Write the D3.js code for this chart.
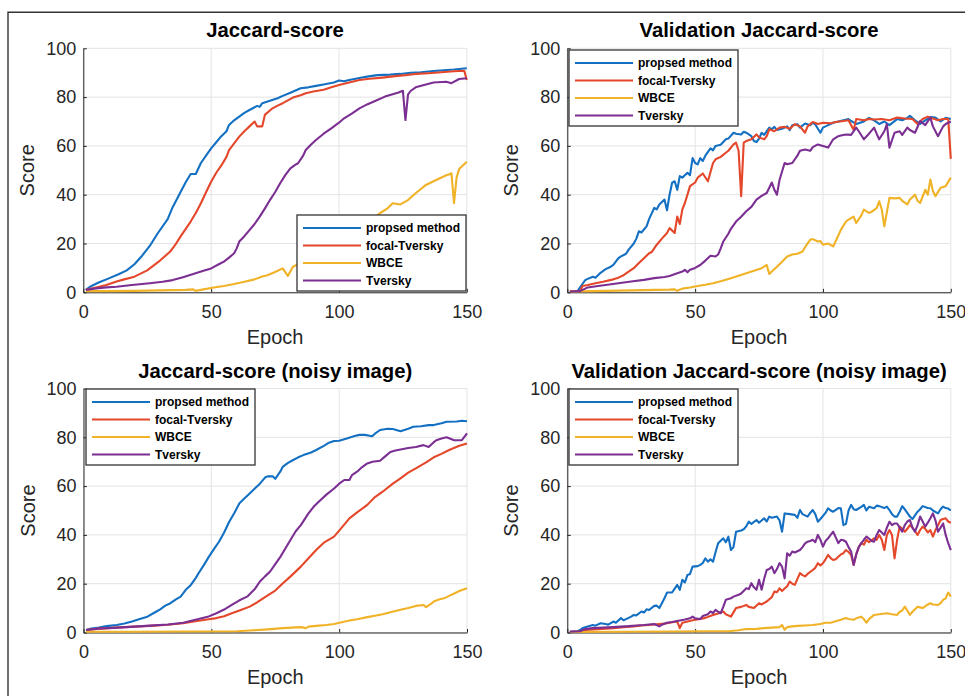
<!DOCTYPE html>
<html>
<head>
<meta charset="utf-8">
<script src="https://cdn.jsdelivr.net/npm/d3@7"></script>
<style>
  body { margin: 0; background: #fff; }
  svg { display: block; font-family: "Liberation Sans", Arial, Helvetica, sans-serif; }
</style>
</head>
<body>
<div id="chart"></div>
<script>
// series names, in legend order
const seriesNames = ["propsed method", "focal-Tversky", "WBCE", "Tversky"];
const seriesColors = ["#1470c2", "#e4472a", "#f0b226", "#7c2f92"];
const panelTitles = ["Jaccard-score", "Validation Jaccard-score", "Jaccard-score (noisy image)", "Validation Jaccard-score (noisy image)"];
const xTicks = [0, 50, 100, 150];
const yTicks = [0, 20, 40, 60, 80, 100];

// [epoch, score]
// --- Jaccard-score
const trainProposed = [[1,1],[3,2.5],[6,4],[10,5.7],[14,7.5],[17,9],[20,11.5],[23,15],[26,19],[29,24],[33,30],[35,35],[38,41],[40,45],[42,48.5],[44,48.5],[46,53],[48,56],[50,59],[52,61.5],[54,64],[56,66],[57,68.6],[59,70.5],[61,72],[63,73.5],[65,74.7],[68,76.4],[69,76],[70,77.5],[73,78.5],[76,79.5],[78,80.5],[81,81.8],[85,83.6],[88,84],[91,84.6],[94,85.2],[98,86],[100,86.8],[102,86.5],[104,87],[108,87.8],[111,88.4],[115,89],[120,89.2],[124,89.5],[128,90],[132,90.2],[137,90.7],[141,91],[145,91.3],[150,91.8]];
const trainFocal = [[1,1],[5,2],[9,3],[13,4.4],[16,5.3],[20,6.4],[25,9],[30,13],[34,16.7],[36,19.5],[38,22.8],[42,29],[44,32.5],[46,36.5],[48,41],[50,45.3],[52,49],[54,52],[56,55.5],[57,58.3],[59,61],[61,63.8],[63,66],[65,68],[67,70],[68,68],[70,68],[71,72.7],[74,75.4],[76,76.5],[78,77.5],[82,79.8],[85,80.8],[87,81.6],[90,82.3],[94,83],[97,84],[100,85],[104,86],[108,87],[112,87.5],[117,88],[122,88.6],[126,89],[130,89.5],[135,89.8],[140,90.2],[145,90.6],[149,90.8],[150,87]];
const trainWBCE = [[1,0.5],[10,0.5],[20,0.6],[30,0.8],[40,1],[43,1.2],[44,0.6],[46,1],[51,2],[55,2.6],[59,3.4],[63,4.3],[67,5.3],[70,6.5],[72,7],[75,8.3],[78,9.8],[80,6.7],[82,10.5],[85,12],[90,15],[95,18],[100,21],[105,24],[110,28],[113,30],[116,32.4],[119,34.4],[121,36.5],[124,36],[127,37.8],[130,40.6],[134,44],[138,46],[142,48],[143,48.3],[144,48.8],[145,36.5],[146,47],[147,50.5],[150,53.5]];
const trainTversky = [[1,1],[5,1.6],[9,2],[13,2.3],[19,3],[26,3.7],[31,4.3],[35,5],[39,6.2],[43,7.5],[47,8.8],[50,9.8],[53,11.5],[55,12.6],[57,14.2],[59,16],[60,18],[61,20.8],[63,23],[65,25.5],[67,28],[69,31],[71,34.3],[73,37.8],[75,41],[77,44.7],[79,48],[81,50.8],[83,52.3],[84,52.9],[86,56],[87,58.3],[89,60.5],[91,62.4],[94,65],[97,67.2],[100,69.5],[102,71.3],[105,73.2],[108,75.4],[111,77],[115,78.8],[118,80.2],[120,80.9],[123,81.8],[125,82.6],[126,70.6],[127,81],[128,82.5],[130,84],[134,85.2],[137,86],[142,86.3],[144,85.7],[147,87.4],[150,87.7]];

// --- Validation Jaccard-score
const valProposed = [[1,0.5],[4,0.5],[5,2],[6,3.5],[7,5],[8,5.5],[10,6.4],[11,6],[13,8],[15,9.5],[17,10.5],[18,11.2],[20,14],[21,14.7],[23,15.8],[24,17.5],[26,20],[27,22],[28,25],[29,24.5],[31,27],[32,30],[34,34.6],[35,34],[36,36],[38,38],[39,33.6],[40,40],[41,44.9],[42,45.5],[43,42],[44,47.6],[45,47],[47,49],[48,48],[49,55],[50,53],[51,52.4],[52,55],[53,53.8],[54,56],[56,59],[57,58.2],[58,60],[60,60.5],[62,62.7],[63,63],[65,65.4],[66,65],[68,64.7],[69,65.8],[70,65.4],[72,64],[73,62],[74,61.6],[75,63],[76,65.4],[77,64.5],[79,67.5],[80,66.8],[81,67.8],[82,66.5],[84,67],[86,68],[87,66.5],[88,68.5],[90,68.9],[91,67.5],[93,69.2],[95,68.5],[96,69.5],[97,68.8],[99,65.4],[100,67.5],[102,68.5],[104,69.5],[106,70],[108,70.5],[110,71],[111,70.2],[113,69],[116,70],[118,71.5],[120,70.5],[122,69],[124,70],[126,68.5],[129,71],[131,70.5],[133,71.5],[134,72.3],[136,70.5],[138,69],[140,70.5],[142,71.8],[144,71.6],[146,70],[148,71.5],[150,71]];
const valFocal = [[1,0.5],[5,0.5],[6,2.6],[8,3],[11,3.7],[14,4.3],[18,5.3],[20,6],[22,7],[24,8.5],[26,9.9],[28,12],[30,14],[32,16],[33,16.5],[35,19.5],[37,22],[39,24.3],[40,26.3],[42,24.3],[43,31],[44,28],[45,34],[46,36.6],[48,43.5],[50,45],[51,47],[53,48.7],[55,45.5],[57,53],[58,54.5],[60,55.5],[62,57.2],[63,58],[65,60.6],[66,61.3],[67,58],[68,39.4],[69,61.3],[70,62],[72,62.7],[74,64.7],[75,63.5],[77,62.7],[78,64],[79,66.8],[81,66],[83,67.5],[85,67.8],[87,67],[89,68.9],[91,68],[93,65.4],[94,68],[96,69.8],[98,69],[100,69.5],[103,69.3],[105,69.8],[108,70.2],[110,70.5],[112,66.5],[113,71],[116,70.5],[118,71],[120,70.8],[123,71],[126,70.5],[129,71.6],[132,71.2],[135,71],[137,69],[139,71],[141,72],[143,71.2],[145,70.5],[147,71],[149,71],[150,54.7]];
const valWBCE = [[1,0.3],[10,0.5],[20,0.7],[30,0.9],[40,1.1],[42,1.2],[43,0.6],[45,1.5],[48,2],[51,2.6],[54,3.1],[57,3.7],[60,4.5],[64,5.8],[67,6.8],[70,7.8],[73,8.8],[76,9.9],[78,11.2],[79,7.5],[80,8.5],[82,10.5],[84,12.5],[86,14.7],[88,15.5],[90,15.8],[92,16.7],[93,18.5],[95,21.5],[96,21.8],[98,20.8],[99,21],[100,19.5],[102,20],[104,18.8],[105,21],[107,25.6],[109,29],[110,29.8],[112,31],[113,28.4],[115,31.5],[116,33.9],[118,32.5],[119,33],[121,34.5],[122,37.3],[123,34],[124,27],[126,38.7],[128,38.5],[130,38.7],[131,37.5],[133,36],[134,38],[136,40],[137,37.5],[138,36.6],[140,42],[141,40],[142,46.2],[143,41.5],[144,39.4],[146,42.8],[148,43.5],[150,47]];
const valTversky = [[1,0.3],[5,0.5],[7,1.5],[8,2],[12,2.6],[15,3],[20,3.7],[25,4.4],[30,5.1],[34,5.8],[38,6.3],[40,6.7],[43,7.8],[45,8.5],[46,9.2],[47,8.2],[48,9.2],[50,10],[52,11.2],[54,13],[56,15],[58,14.7],[59,15.5],[60,18],[61,20.8],[63,24],[64,26],[66,29],[68,31],[70,33.2],[72,35],[74,38],[76,39.5],[78,40.7],[80,45],[81,42],[82,40],[83,46],[85,53],[86,52.5],[88,53],[90,56],[91,58],[93,58.5],[95,58],[96,59.5],[98,60.6],[100,60],[102,59.3],[103,61],[104,62.7],[106,64],[107,64.3],[109,64.7],[111,64.5],[113,67.5],[114,66],[116,62.7],[118,65],[120,67.5],[121,65],[122,62.7],[124,66],[125,68.9],[126,59.3],[128,65.4],[130,66],[131,64.5],[133,67.5],[134,66.5],[136,65.4],[138,70.2],[140,68.5],[142,71.6],[143,68],[145,64],[147,68],[148,69],[150,70]];

// --- Jaccard-score (noisy image)
const noisyProposed = [[1,1],[3,1.6],[6,2],[9,2.6],[13,3.1],[16,3.7],[19,4.5],[22,5.5],[25,6.5],[28,8.3],[30,9.5],[32,11],[34,12],[36,13.5],[38,14.7],[40,17.5],[42,19.5],[44,22.5],[45,24.3],[47,27.5],[49,31],[51,34.2],[53,37.2],[55,41],[57,45.4],[59,49],[61,53],[63,55],[65,57],[67,59],[69,61],[71,63.5],[72,64],[74,64],[75,63],[77,66],[78,68],[80,69.5],[82,70.7],[84,71.8],[86,72.7],[89,73.8],[91,74.8],[94,76.5],[96,77.8],[98,78.5],[100,78.6],[103,79.5],[106,80.5],[108,81],[110,81],[112,80.6],[113,80.5],[114,81.5],[116,83],[119,83.5],[121,83.4],[124,82.5],[127,83.5],[129,84.3],[132,84.5],[135,85],[137,85],[140,85.8],[142,86.4],[146,86.5],[148,86.8],[150,86.6]];
const noisyFocal = [[1,1],[6,1.6],[13,2],[20,2.4],[26,2.7],[33,3.2],[39,3.8],[45,4.8],[49,5.4],[52,5.9],[55,6.7],[58,7.9],[61,9],[65,10.6],[68,12.4],[71,14.5],[75,17.2],[78,20.2],[81,23],[85,27],[88,30.4],[91,33.8],[94,36.8],[98,39.3],[101,43],[104,46.8],[107,49.2],[111,52.3],[114,55.5],[117,57.7],[121,61],[124,63.2],[127,65.5],[130,67.3],[134,69.7],[137,71.8],[140,73.2],[143,74.8],[147,76.5],[150,77.5]];
const noisyWBCE = [[1,0.3],[20,0.3],[40,0.4],[60,0.5],[65,0.8],[72,1.3],[78,1.8],[85,2.2],[87,1.8],[88,2.4],[91,2.7],[95,3.1],[98,3.5],[101,4.2],[104,4.9],[107,5.4],[111,6.3],[114,6.9],[117,7.5],[120,8.3],[124,9.3],[127,10],[130,10.9],[133,11.3],[134,10.4],[136,11.8],[137,12.7],[139,13.5],[141,14],[143,15],[145,16],[147,17],[150,18.1]];
const noisyTversky = [[1,1],[6,1.6],[13,2],[20,2.4],[26,2.8],[33,3.3],[39,4],[45,5.5],[49,6.6],[52,7.9],[55,9.4],[58,11.3],[61,13.2],[64,14.7],[67,17.8],[69,20.9],[71,23],[73,25],[75,28],[77,31],[79,34.5],[81,38],[83,41.5],[85,44],[88,48.8],[90,51.5],[92,53.6],[95,56.5],[98,59],[100,61],[102,62.5],[104,62.5],[105,64.5],[107,65.9],[109,67.8],[111,69.3],[113,70],[116,70.4],[118,72.2],[120,74],[122,74.6],[124,75],[127,75.6],[130,76],[133,76.8],[135,76],[137,78],[138,78.8],[140,79.5],[142,80],[145,78.8],[148,78.8],[150,81.6]];

// --- Validation Jaccard-score (noisy image)
const noisyValProposed = [[1,0.3],[4,0.5],[5,1],[6,1.8],[8,2.5],[10,3.1],[11,2.8],[13,3.8],[15,3.5],[16,3.2],[18,4.5],[19,4],[21,5.9],[22,5],[23,5.5],[25,6.5],[26,7.2],[27,7],[29,8.6],[30,8.2],[31,9.5],[32,9.2],[34,10.9],[35,11],[36,10],[37,12],[38,14],[39,16.4],[41,16.4],[42,18],[43,19.5],[44,17.5],[45,21.6],[46,20.5],[47,23.6],[48,24],[49,27],[51,27.2],[52,27.7],[53,28.5],[54,30.4],[55,29],[56,30],[57,29],[58,33],[59,36.6],[61,38.6],[62,37],[63,39.3],[64,33.8],[65,35],[66,41.3],[68,41.8],[69,42.3],[70,43.5],[71,45.4],[72,44.5],[74,46.1],[75,45],[77,46.8],[78,45.5],[79,47.5],[80,47],[82,47.5],[83,46],[84,41.3],[85,48.8],[87,48.5],[89,48.2],[90,47],[91,50.2],[92,48.5],[94,47.5],[95,49],[96,50.2],[97,48.5],[98,45.4],[99,46.5],[101,49],[102,50.9],[103,50],[104,49.5],[106,51],[107,50.9],[108,44],[109,44.5],[110,50],[111,52.3],[112,50.5],[113,50.2],[115,51.5],[116,52.3],[117,50],[118,51.5],[120,50.9],[121,52],[122,51.8],[124,51],[125,51.6],[126,50.2],[127,48.5],[128,47.5],[129,47.5],[130,49.5],[131,51.8],[132,50.5],[133,49],[134,47.5],[135,46.5],[136,48],[137,49.5],[138,50.5],[139,51.8],[141,51],[142,50.9],[143,50],[145,48.8],[146,50.5],[147,51.6],[148,51],[149,50.8],[150,50]];
const noisyValFocal = [[1,0.3],[5,0.5],[7,1],[12,1.4],[18,1.8],[22,2.2],[26,2.5],[29,2.9],[32,3.1],[36,3.5],[39,3.8],[41,4.2],[43,4.5],[44,1.8],[45,4],[47,4.5],[49,5],[52,5.5],[54,6],[57,7.2],[59,7.8],[61,8.6],[62,7.5],[64,6.5],[66,10],[68,10.5],[70,11.3],[71,10.5],[73,10],[75,12],[76,11.5],[78,12.7],[80,14.5],[81,16.8],[82,16.5],[83,18.1],[84,17],[85,18],[86,19],[87,20.9],[88,20],[89,19.5],[90,22],[91,24.3],[92,23.5],[93,23],[94,24],[96,25.6],[97,26.5],[98,28.4],[99,27.5],[100,28.4],[101,30],[102,31.8],[103,30.5],[104,29.7],[105,30],[106,31],[107,32],[108,32.5],[109,33.8],[110,33],[111,31.8],[112,27.7],[113,32],[114,35],[115,36.6],[116,36],[117,38],[118,37],[120,38.6],[121,38],[122,40],[123,38],[124,33.8],[125,40],[126,42],[127,40],[128,30.4],[129,38],[130,43.4],[131,42.5],[132,41.3],[133,42.5],[134,44],[135,43],[136,41.5],[137,40],[138,42],[139,43.4],[140,42.5],[141,41],[142,42],[143,39.3],[144,42],[145,44],[146,46.1],[147,46.5],[148,46.8],[149,45.5],[150,45]];
const noisyValWBCE = [[1,0.2],[20,0.3],[40,0.4],[55,0.5],[63,0.5],[67,0.9],[70,1.4],[74,1.5],[77,1.8],[80,2],[83,2.2],[84,3.1],[85,1.1],[86,2.2],[88,2.5],[90,2.7],[93,2.9],[96,3.1],[99,3.5],[101,4],[103,4],[105,4.6],[107,5.2],[109,5.9],[110,5.5],[112,5.2],[113,5.8],[115,6.5],[116,5.5],[117,4],[118,5.5],[120,7.2],[122,7.5],[125,7.9],[127,7.5],[129,7.2],[130,8.5],[131,9],[132,10.6],[133,9],[134,7.2],[135,8.5],[137,10.6],[138,10.3],[139,10],[141,11.5],[142,12],[143,11.5],[145,11.3],[146,12],[147,13.4],[148,14],[149,16.4],[150,14.7]];
const noisyValTversky = [[1,0.3],[5,0.5],[7,1.4],[10,1.8],[14,2],[18,2.2],[21,2.4],[24,2.6],[27,2.9],[30,3.1],[32,3.3],[34,3.5],[36,2.5],[37,3.2],[39,4],[41,4.3],[44,4.9],[46,5.3],[48,5.8],[49,6.5],[50,5.8],[52,5.5],[53,6.8],[55,7.5],[56,8.6],[57,8],[58,9.3],[59,8.5],[60,7.9],[61,10.5],[62,13.4],[64,14],[65,14.7],[67,15.5],[68,16],[70,18.1],[71,17.8],[72,20.2],[73,18.5],[74,17.5],[75,21.6],[76,17.5],[77,22],[78,25.6],[79,26],[80,27],[81,24.3],[82,26],[83,28.4],[84,27],[85,22.2],[86,32.5],[87,31.5],[88,33.2],[89,32.8],[91,33.8],[92,35],[93,36.5],[94,37.2],[95,37.5],[96,38],[97,37],[98,40],[99,38],[100,35.2],[101,37.5],[102,38.6],[103,40],[104,41.3],[105,39],[106,36.6],[107,38],[108,37.8],[109,37.2],[110,35],[111,33.2],[112,27.7],[113,32],[114,35],[115,36.6],[116,38],[117,39.3],[118,38.5],[119,37.5],[120,37.2],[121,40],[122,42],[123,41],[124,40],[125,43],[126,45.4],[127,44],[128,44.7],[129,44.7],[130,43],[131,41.3],[132,44],[133,45.5],[134,46.1],[135,43],[136,41.3],[137,44],[138,47.5],[139,45.5],[140,43.4],[141,45],[142,46.8],[143,48.8],[144,46],[145,41.3],[146,43],[147,44.7],[148,40],[149,36.6],[150,33.8]];

const panelSeries = [
    [trainProposed, trainFocal, trainWBCE, trainTversky],
    [valProposed, valFocal, valWBCE, valTversky],
    [noisyProposed, noisyFocal, noisyWBCE, noisyTversky],
    [noisyValProposed, noisyValFocal, noisyValWBCE, noisyValTversky]
];

// layout (pixels)
const W = 965, H = 696;
const plotW = 383.5, plotH = 244;
const layout = [
    { left: 83.3, top: 48.3, legend: [297, 215] },
    { left: 567.3, top: 48.3, legend: [569, 50] },
    { left: 83.5, top: 388.5, legend: [86, 389] },
    { left: 567.3, top: 388.5, legend: [569, 389] }
];
const tickColor = "#262626";
const gridColor = "#e3e3e3";

const svg = d3.select("#chart")
    .append("svg")
    .attr("width", W)
    .attr("height", H);

// outer frame (top and left edges only show)
svg.append("path")
    .attr("d", `M8,${H} L8,12.3 L${W},12.3`)
    .attr("fill", "none")
    .attr("stroke", "#333")
    .attr("stroke-width", 1.4);

const x = d3.scaleLinear().domain([0, 150]).range([0, plotW]);
const y = d3.scaleLinear().domain([0, 100]).range([plotH, 0]);

const line = d3.line()
    .x(d => x(d[0]))
    .y(d => y(d[1]));

panelSeries.forEach((series, p) => {
    const L = layout[p];
    const g = svg.append("g")
        .attr("transform", `translate(${L.left}, ${L.top})`);

    // grid
    g.append("g")
        .selectAll("line")
        .data(xTicks)
        .join("line")
        .attr("x1", d => x(d)).attr("x2", d => x(d))
        .attr("y1", 0).attr("y2", plotH)
        .attr("stroke", gridColor);
    g.append("g")
        .selectAll("line")
        .data(yTicks)
        .join("line")
        .attr("x1", 0).attr("x2", plotW)
        .attr("y1", d => y(d)).attr("y2", d => y(d))
        .attr("stroke", gridColor);

    // axes, ticks pointing in
    const xAxis = g.append("g")
        .attr("transform", `translate(0, ${plotH})`)
        .call(d3.axisBottom(x).tickValues(xTicks).tickSizeInner(-3.5).tickSizeOuter(0).tickPadding(13));
    const yAxis = g.append("g")
        .call(d3.axisLeft(y).tickValues(yTicks).tickSizeInner(-3.5).tickSizeOuter(0).tickPadding(7));
    [xAxis, yAxis].forEach(a => {
        a.select(".domain").attr("stroke", tickColor);
        a.selectAll(".tick line").attr("stroke", tickColor);
        a.selectAll(".tick text")
            .attr("fill", tickColor)
            .style("font-size", "18px")
            .style("font-family", '"Liberation Sans", Arial, sans-serif');
    });

    // lines
    g.append("g")
        .selectAll("path")
        .data(series)
        .join("path")
        .attr("d", line)
        .attr("fill", "none")
        .attr("stroke", (d, i) => seriesColors[i])
        .attr("stroke-width", 2.1)
        .attr("stroke-linejoin", "round");

    // title + labels
    g.append("text")
        .attr("x", plotW / 2)
        .attr("y", -11)
        .attr("text-anchor", "middle")
        .style("font-size", "20.3px")
        .style("font-weight", "bold")
        .attr("fill", "#000")
        .text(panelTitles[p]);

    g.append("text")
        .attr("x", plotW / 2)
        .attr("y", plotH + 51.5)
        .attr("text-anchor", "middle")
        .style("font-size", "20px")
        .attr("fill", tickColor)
        .text("Epoch");

    g.append("text")
        .attr("transform", `translate(-49, ${plotH / 2}) rotate(-90)`)
        .attr("text-anchor", "middle")
        .style("font-size", "20px")
        .attr("fill", tickColor)
        .text("Score");

    // legend
    const lg = svg.append("g")
        .attr("transform", `translate(${L.legend[0]}, ${L.legend[1]})`);
    lg.append("rect")
        .attr("width", 169)
        .attr("height", 76)
        .attr("fill", "#fff")
        .attr("stroke", "#333")
        .attr("stroke-width", 1.3);
    const item = lg.selectAll(".item")
        .data(seriesNames)
        .join("g")
        .attr("class", "item")
        .attr("transform", (d, i) => `translate(0, ${13 + i * 17.5})`);
    item.append("line")
        .attr("x1", 6).attr("x2", 64)
        .attr("stroke", (d, i) => seriesColors[i])
        .attr("stroke-width", 2.1);
    item.append("text")
        .attr("x", 69)
        .attr("dy", "0.35em")
        .style("font-size", "12px")
        .style("font-weight", "bold")
        .attr("fill", "#000")
        .text(d => d);
});
</script>
</body>
</html>
